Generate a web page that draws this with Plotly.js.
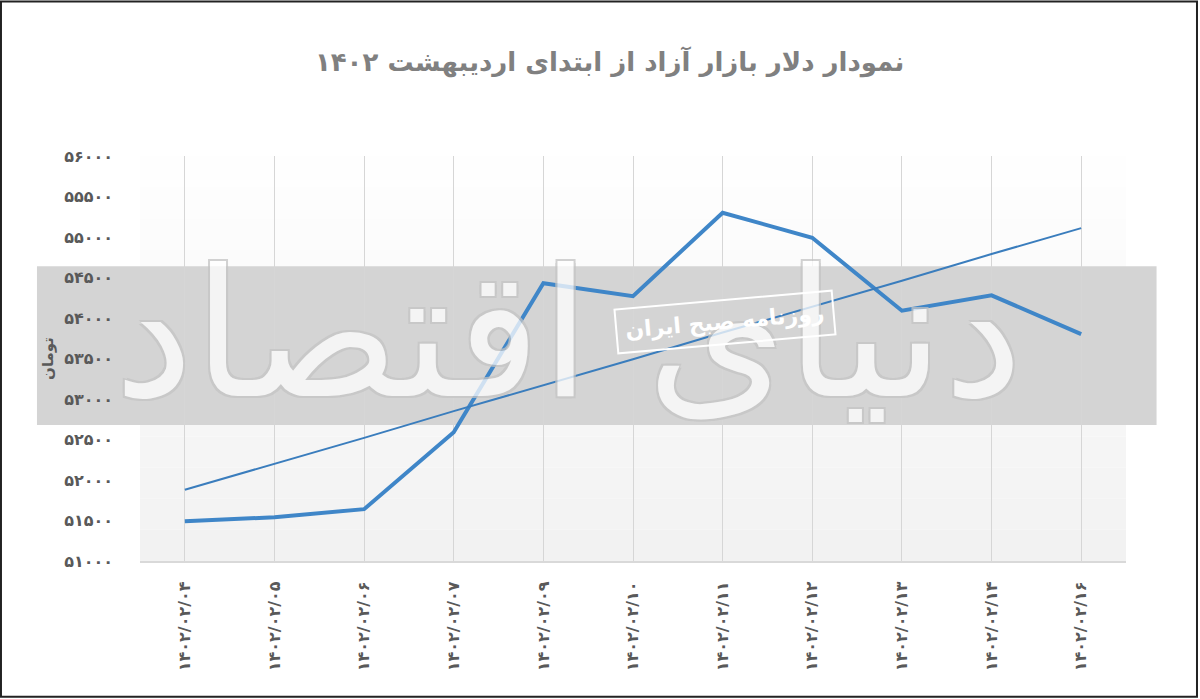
<!DOCTYPE html>
<html>
<head>
<meta charset="utf-8">
<script src="https://cdn.plot.ly/plotly-3.0.1.min.js"></script>
<style>
  html, body { margin: 0; padding: 0; background: #fff; }
  #chart { width: 1200px; height: 699px; }
</style>
</head>
<body>
<div id="chart"></div>
<script>
// dates (Persian digits)
var dates = ['۱۴۰۲/۰۲/۰۴', '۱۴۰۲/۰۲/۰۵', '۱۴۰۲/۰۲/۰۶', '۱۴۰۲/۰۲/۰۷', '۱۴۰۲/۰۲/۰۹', '۱۴۰۲/۰۲/۱۰',
             '۱۴۰۲/۰۲/۱۱', '۱۴۰۲/۰۲/۱۲', '۱۴۰۲/۰۲/۱۳', '۱۴۰۲/۰۲/۱۴', '۱۴۰۲/۰۲/۱۶'];

// free market dollar, toman
var dollar = [51490, 51540, 51640, 52590, 54430, 54270, 55300, 54990, 54090, 54280, 53800];

// linear trend line as drawn
var trend = [51880, 52200, 52520, 52850, 53170, 53490, 53820, 54140, 54460, 54790, 55110];

var yTickVals = [51000, 51500, 52000, 52500, 53000, 53500, 54000, 54500, 55000, 55500, 56000];
var yTickText = ['۵۱۰۰۰', '۵۱۵۰۰', '۵۲۰۰۰', '۵۲۵۰۰', '۵۳۰۰۰', '۵۳۵۰۰', '۵۴۰۰۰', '۵۴۵۰۰', '۵۵۰۰۰', '۵۵۵۰۰', '۵۶۰۰۰'];

var labelFont = {family: 'DejaVu Sans', size: 16, weight: 'bold', color: '#595959'};

// light gradient behind the plot area (bottom grey to white on top)
var bgShapes = [];
var steps = ['#f2f2f2', '#f3f3f3', '#f4f4f4', '#f5f5f5', '#f6f6f6', '#f7f7f7', '#f8f8f8',
             '#f9f9f9', '#fafafa', '#fbfbfb', '#fcfcfc', '#fdfdfd', '#fefefe'];
for (var i = 0; i < steps.length; i++) {
  bgShapes.push({
    type: 'rect', xref: 'paper', yref: 'paper', layer: 'below',
    x0: 0, x1: 1, y0: i / steps.length, y1: (i + 1) / steps.length,
    fillcolor: steps[i], line: {width: 0}
  });
}

var shapes = bgShapes.concat([
  // grey watermark band
  {
    type: 'rect', xref: 'paper', yref: 'paper', layer: 'below',
    x0: -0.1045, x1: 1.031, y0: 0.336, y1: 0.728,
    fillcolor: '#d4d4d4', line: {width: 0}
  },
  // outer frame
  {
    type: 'rect', xref: 'paper', yref: 'paper', layer: 'above',
    x0: -0.1410, x1: 1.0720, y0: -0.3350, y1: 1.3815,
    fillcolor: 'rgba(0,0,0,0)', line: {color: '#222', width: 2}
  }
]);

var traces = [
  {
    x: dates,
    y: dollar,
    type: 'scatter',
    mode: 'lines',
    line: {color: '#3f86c8', width: 4},
    hoverinfo: 'x+y'
  },
  {
    x: dates,
    y: trend,
    type: 'scatter',
    mode: 'lines',
    line: {color: '#3a7dbd', width: 2},
    hoverinfo: 'skip'
  }
];

var layout = {
  width: 1200,
  height: 699,
  paper_bgcolor: '#ffffff',
  plot_bgcolor: 'rgba(0,0,0,0)',
  showlegend: false,
  margin: {l: 140, r: 74, t: 156, b: 138},
  title: {
    text: '<b>نمودار دلار بازار آزاد از ابتدای اردیبهشت ۱۴۰۲</b>',
    font: {family: 'DejaVu Sans', size: 26, color: '#808080'},
    x: 0.508,
    xanchor: 'center',
    y: 0.911,
    yanchor: 'middle'
  },
  xaxis: {
    type: 'category',
    range: [-0.5, 10.5],
    showgrid: true,
    gridcolor: '#d6d6d6',
    gridwidth: 1,
    showline: true,
    linecolor: '#d9d9d9',
    linewidth: 2,
    zeroline: false,
    ticks: '',
    tickangle: -90,
    ticklabelstandoff: 12,
    tickfont: labelFont,
    fixedrange: true
  },
  yaxis: {
    range: [51000, 56000],
    tickvals: yTickVals,
    ticktext: yTickText,
    showgrid: false,
    showline: false,
    zeroline: false,
    ticks: '',
    ticklabelstandoff: 26,
    tickfont: labelFont,
    title: {
      text: '<b>تومان</b>',
      font: {family: 'DejaVu Sans', size: 15, color: '#595959'},
      standoff: 6
    },
    fixedrange: true
  },
  shapes: shapes,
  annotations: [
    {
      // large watermark
      text: 'دنیای اقتصاد',
      xref: 'paper', yref: 'paper',
      x: 0.435, y: 0.56,
      showarrow: false,
      opacity: 0.75,
      font: {
        family: 'DejaVu Sans', size: 178, color: '#ffffff',
        shadow: '2px 2px 0 #c4c4c4, -2px -2px 0 #c4c4c4, 2px -2px 0 #c4c4c4, -2px 2px 0 #c4c4c4'
      }
    },
    {
      text: '<b>روزنامه صبح ایران</b>',
      xref: 'paper', yref: 'paper',
      x: 0.593, y: 0.67,
      showarrow: false,
      textangle: -5,
      bordercolor: '#ffffff',
      borderwidth: 2,
      borderpad: 8,
      font: {family: 'DejaVu Sans', size: 22, color: '#ffffff'}
    }
  ]
};

Plotly.newPlot('chart', traces, layout, {displayModeBar: false, staticPlot: true});
</script>
</body>
</html>
